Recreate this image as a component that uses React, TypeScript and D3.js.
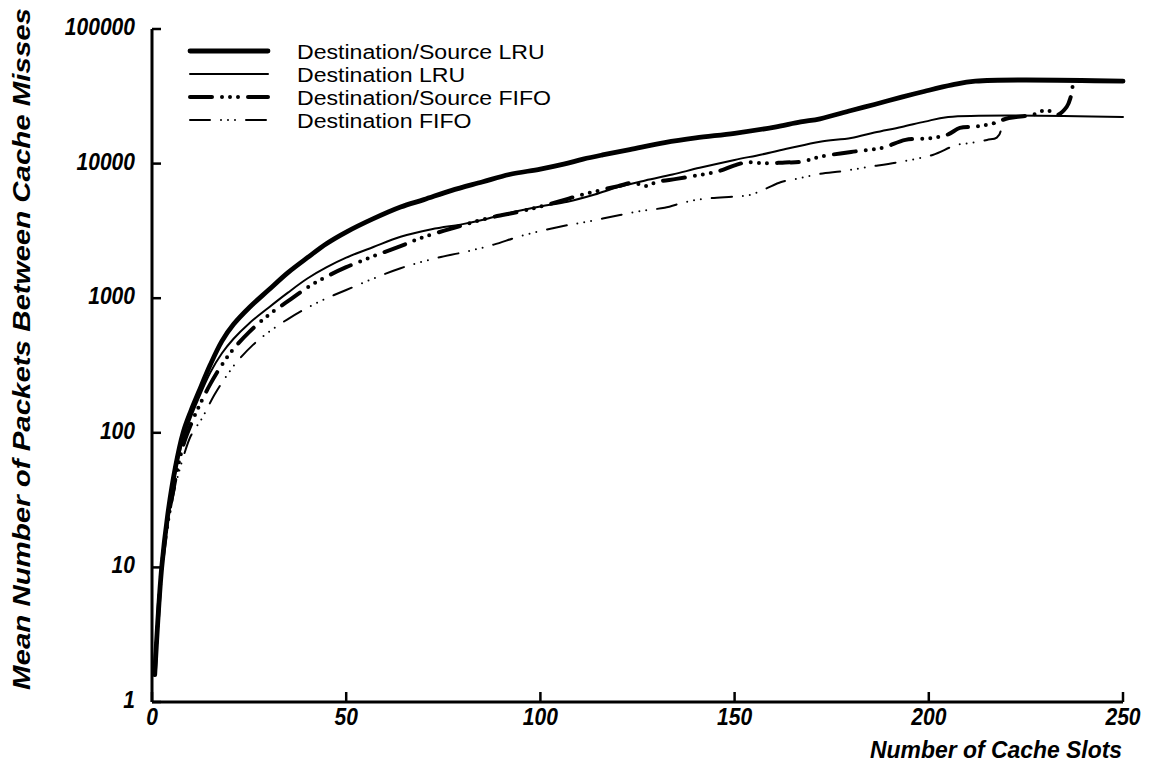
import React from "react";
import * as d3 from "d3";

type Pt = [number, number];

const xTicks = [0, 50, 100, 150, 200, 250];
const yTicks = [1, 10, 100, 1000, 10000, 100000];
const yTickLabels = ["1", "10", "100", "1000", "10000", "100000"];

const seriesNames = [
  "Destination/Source LRU",
  "Destination LRU",
  "Destination/Source FIFO",
  "Destination FIFO",
];

const dsLRU: Pt[] = [
  [0.7, 1.6], [1.5, 4], [2.5, 10], [4, 24], [6, 55], [8, 100], [10, 145], [12, 200],
  [15, 320], [18, 480], [21, 640], [25, 850], [30, 1150], [35, 1550], [40, 2000],
  [45, 2550], [50, 3100], [57, 3900], [64, 4760], [70, 5400], [77, 6300], [85, 7300],
  [92, 8300], [100, 9100], [106, 9900], [111, 10800], [116, 11600], [123, 12700],
  [132, 14300], [140, 15500], [150, 16800], [160, 18600], [167, 20400], [172, 21500],
  [180, 24800], [186, 27500], [193, 31200], [199, 34500], [206, 38400], [212, 41000],
  [250, 41000],
];

const dLRU: Pt[] = [
  [0.7, 1.6], [1.5, 4], [2.5, 10], [4, 22], [6, 50], [8, 90], [10, 130], [12, 180],
  [15, 280], [18, 390], [21, 500], [25, 650], [30, 850], [35, 1100], [40, 1400],
  [45, 1700], [50, 2000], [57, 2400], [64, 2860], [72, 3250], [80, 3550], [85, 3810],
  [92, 4300], [100, 4800], [107, 5210], [114, 5900], [120, 6700], [127, 7500],
  [134, 8300], [141, 9300], [150, 10640], [157, 11700], [164, 13000], [172, 14550],
  [180, 15500], [186, 17000], [193, 18700], [199, 20500], [205, 22200], [250, 22200],
];

const dsFIFO: Pt[] = [
  [0.7, 1.6], [1.5, 4], [2.5, 10], [4, 21], [6, 45], [8, 80], [10, 115], [12, 155],
  [15, 230], [18, 320], [21, 420], [25, 560], [30, 750], [35, 950], [40, 1200],
  [45, 1450], [50, 1700], [57, 2050], [64, 2440], [70, 2850], [78, 3350], [86, 3900],
  [95.5, 4450], [100, 4800], [105, 5250], [110, 5800], [115, 6300], [120, 6800],
  [124, 7200], [127, 6800], [130, 7300], [135, 7700], [141, 8230], [146, 8800],
  [150, 9700], [153, 10200], [158, 10050], [163, 10200], [167, 10300], [172, 11250],
  [180, 12200], [188, 13100], [194, 15000], [201, 15500], [205, 16500], [208, 18400],
  [212, 18800], [216, 19700], [220.6, 21800], [226.6, 23000], [230.3, 25000],
  [233, 23000], [235.5, 26400], [236.5, 31000], [237, 37000],
];

const dFIFO: Pt[] = [
  [0.7, 1.6], [1.5, 4], [2.6, 10], [4, 20], [6, 40], [8, 65], [10, 95], [13, 130],
  [16, 190], [19, 260], [22, 340], [26, 450], [30, 560], [35, 700], [40, 850],
  [45, 1000], [50, 1150], [57, 1400], [64, 1670], [72, 1950], [81, 2220], [88, 2500],
  [95, 2900], [105, 3400], [112, 3700], [120.5, 4150], [127, 4500], [132, 4700],
  [137.7, 5210], [143, 5500], [150, 5700], [154, 5850], [158, 6500], [162, 7300],
  [166.8, 7800], [172, 8400], [178, 8800], [184, 9400], [192.6, 10300], [201, 11600],
  [207, 13700], [211.4, 14300], [215, 15000], [217.5, 15600], [218.5, 17500],
  [217.8, 19500], [216, 20000],
];

const allSeries = [dsLRU, dLRU, dsFIFO, dFIFO];

const styles = [
  { w: 4.8, dash: "" },
  { w: 2, dash: "" },
  { w: 4, dash: "22 10 0 8 0 8 0 10" },
  { w: 2, dash: "20 11 0 7 0 7 0 11" },
];

export default function App() {
  const W = 1153;
  const H = 767;
  const x0 = 152, x1 = 1123;
  const y0 = 702, y1 = 29;
  const x = d3.scaleLinear().domain([0, 250]).range([x0, x1]);
  const y = d3.scaleLog().domain([1, 100000]).range([y0, y1]);
  const line = d3
    .line<Pt>()
    .x((d) => x(d[0]))
    .y((d) => y(d[1]))
    .curve(d3.curveCatmullRom.alpha(0.5));

  const font = "'Liberation Sans', Arial, Helvetica, sans-serif";
  const legendY = [51, 74, 97, 120];

  return (
    <svg
      width={W}
      height={H}
      style={{ position: "absolute", left: 0, top: 0, background: "#fff" }}
      fontFamily={font}
    >
      <rect x={0} y={0} width={W} height={H} fill="#fff" />
      {allSeries.map((s, i) => (
        <path
          key={i}
          d={line(s) || ""}
          fill="none"
          stroke="#000"
          strokeWidth={styles[i].w}
          strokeDasharray={styles[i].dash || undefined}
          strokeLinecap="round"
          strokeLinejoin="round"
        />
      ))}
      <line x1={x0} y1={y1} x2={x0} y2={y0} stroke="#000" strokeWidth={3} />
      <line x1={x0} y1={y0} x2={x1} y2={y0} stroke="#000" strokeWidth={3} />
      {yTicks.map((t, i) => (
        <g key={"y" + t}>
          <line x1={x0} x2={x0 + 9} y1={y(t)} y2={y(t)} stroke="#000" strokeWidth={2.5} />
          <text
            x={135}
            y={y(t) + 6}
            textAnchor="end"
            fontSize={23}
            fontWeight="bold"
            fontStyle="italic"
            textLength={yTickLabels[i].length * 11.7}
            lengthAdjust="spacingAndGlyphs"
          >
            {yTickLabels[i]}
          </text>
        </g>
      ))}
      {xTicks.map((t) => (
        <g key={"x" + t}>
          <line x1={x(t)} x2={x(t)} y1={y0} y2={y0 - 10} stroke="#000" strokeWidth={2.5} />
          <text
            x={x(t)}
            y={725}
            textAnchor="middle"
            fontSize={23}
            fontWeight="bold"
            fontStyle="italic"
            textLength={String(t).length * 11.7}
            lengthAdjust="spacingAndGlyphs"
          >
            {t}
          </text>
        </g>
      ))}
      <text
        x={870}
        y={758}
        fontSize={24}
        fontWeight="bold"
        fontStyle="italic"
        textLength={252}
        lengthAdjust="spacingAndGlyphs"
      >
        Number of Cache Slots
      </text>
      <text
        transform={`translate(30, 690) rotate(-90)`}
        x={0}
        y={0}
        fontSize={24}
        fontWeight="bold"
        fontStyle="italic"
        textLength={682}
        lengthAdjust="spacingAndGlyphs"
      >
        Mean Number of Packets Between Cache Misses
      </text>
      {seriesNames.map((n, i) => (
        <g key={n}>
          <line
            x1={190}
            x2={268}
            y1={legendY[i]}
            y2={legendY[i]}
            stroke="#000"
            strokeWidth={styles[i].w}
            strokeDasharray={styles[i].dash || undefined}
            strokeLinecap="round"
          />
          <g transform={`translate(297, ${legendY[i] + 7.5}) scale(1.1, 1)`}>
            <text x={0} y={0} fontSize={21}>
              {n}
            </text>
          </g>
        </g>
      ))}
    </svg>
  );
}
